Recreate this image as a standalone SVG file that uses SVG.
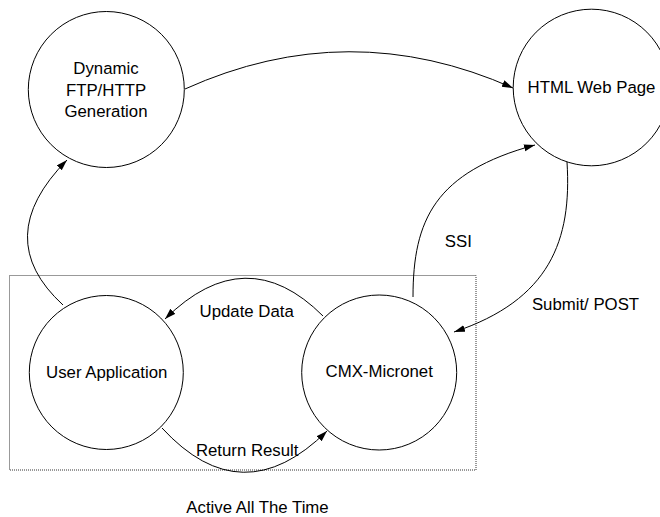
<svg xmlns="http://www.w3.org/2000/svg" width="660" height="517" viewBox="0 0 660 517">
<style>
.node{fill:#fff;stroke:#000;stroke-width:1}
.lbl{font-family:"Liberation Sans",Arial,sans-serif;font-size:16.8px;fill:#000;text-anchor:middle}
.edge{fill:none;stroke:#000;stroke-width:1}
.frame{fill:none;stroke:#333;stroke-width:1;stroke-dasharray:1,1}
</style>
<defs>
<marker id="ah" markerUnits="userSpaceOnUse" markerWidth="12" markerHeight="8" refX="11" refY="3.5" orient="auto">
<path d="M0,0 L11,3.5 L0,7 z" fill="#000"/>
</marker>
</defs>
<rect class="frame" x="9.5" y="275.5" width="466.5" height="194.5"/>
<g id="dynamic">
<circle class="node" cx="106.3" cy="89.5" r="78"/>
<text class="lbl" x="106" y="74">Dynamic</text>
<text class="lbl" x="106" y="95.5">FTP/HTTP</text>
<text class="lbl" x="106" y="116.5">Generation</text>
</g>
<g id="html">
<circle class="node" cx="591.5" cy="87.5" r="78.3"/>
<text class="lbl" x="591.5" y="93.3">HTML Web Page</text>
</g>
<g id="userapp">
<circle class="node" cx="106.3" cy="372.5" r="77"/>
<text class="lbl" x="106.7" y="378.3">User Application</text>
</g>
<g id="cmx">
<circle class="node" cx="379.2" cy="372.5" r="77.5"/>
<text class="lbl" x="379.2" y="377.3">CMX-Micronet</text>
</g>
<g id="connectors">
<path class="edge" d="M185,89 Q349,15 513,88" marker-end="url(#ah)"/>
<path class="edge" d="M63,305 Q-10,238 67,160" marker-end="url(#ah)"/>
<path class="edge" d="M323,316 Q246,239 165,319" marker-end="url(#ah)"/>
<path class="edge" d="M162,428 Q242,515 327,431" marker-end="url(#ah)"/>
<path class="edge" d="M413,297 C413,220 435,172 535,145" marker-end="url(#ah)"/>
<path class="edge" d="M567,162 C572,240 550,300 454,332" marker-end="url(#ah)"/>
</g>
<g id="labels">
<text class="lbl" x="246.7" y="316.7">Update Data</text>
<text class="lbl" x="247.2" y="455.7">Return Result</text>
<text class="lbl" x="458.3" y="246.7">SSI</text>
<text class="lbl" x="585.5" y="310">Submit/ POST</text>
<text class="lbl" x="257.5" y="512.5">Active All The Time</text>
</g>
</svg>
